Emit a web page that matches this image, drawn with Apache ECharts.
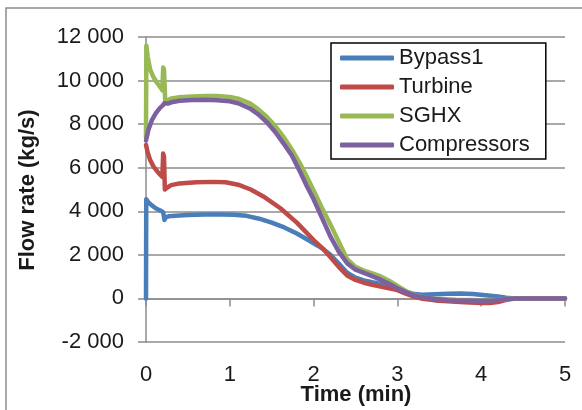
<!DOCTYPE html>
<html><head><meta charset="utf-8">
<script src="https://cdn.jsdelivr.net/npm/echarts@6/dist/echarts.min.js"></script>
<style>html,body{margin:0;padding:0;background:#fff}#c{width:582px;height:410px}</style>
</head><body><div id="c"></div><script>
const seriesNames = ['Bypass1', 'Turbine', 'SGHX', 'Compressors'];
const seriesColors = ['#4A7EBB', '#BE4B48', '#98B954', '#7D60A0'];
const xTicks = [0, 1, 2, 3, 4, 5];
const yTicks = [-2000, 0, 2000, 4000, 6000, 8000, 10000, 12000];

const bypassT = [0, 0.003, 0.03, 0.07, 0.12, 0.17, 0.205, 0.22, 0.235, 0.27, 0.35, 0.5, 0.7, 0.9, 1.05, 1.2, 1.35, 1.5, 1.65, 1.8, 1.95, 2.05, 2.12, 2.2, 2.3, 2.4, 2.5, 2.6, 2.7, 2.8, 2.9, 3.0, 3.1, 3.2, 3.3, 3.45, 3.6, 3.75, 3.9, 4.05, 4.2, 4.3, 4.4, 4.6, 5];
const bypassV = [0, 4550, 4400, 4270, 4130, 4040, 3960, 3600, 3720, 3770, 3800, 3830, 3850, 3855, 3840, 3790, 3660, 3480, 3260, 2980, 2650, 2420, 2250, 2000, 1600, 1180, 950, 830, 740, 660, 560, 450, 310, 200, 170, 190, 220, 230, 200, 150, 90, 30, 0, 0, 0];

const turbineT = [0, 0.02, 0.05, 0.09, 0.13, 0.17, 0.195, 0.205, 0.215, 0.225, 0.25, 0.3, 0.4, 0.6, 0.8, 0.95, 1.1, 1.25, 1.4, 1.6, 1.8, 2.0, 2.12, 2.2, 2.3, 2.4, 2.5, 2.6, 2.7, 2.8, 2.9, 3.0, 3.1, 3.2, 3.3, 3.45, 3.6, 3.8, 4.0, 4.1, 4.2, 4.3, 4.4, 4.6, 5];
const turbineV = [7050, 6700, 6350, 6050, 5850, 5680, 5580, 6650, 6500, 5000, 5080, 5200, 5280, 5330, 5350, 5330, 5220, 5000, 4680, 4150, 3480, 2680, 2250, 1900, 1450, 1050, 850, 720, 620, 540, 460, 380, 220, 80, -20, -90, -130, -170, -210, -210, -170, -60, 0, 0, 0];

const sghxT = [0, 0.004, 0.02, 0.05, 0.09, 0.13, 0.17, 0.195, 0.205, 0.215, 0.23, 0.26, 0.3, 0.4, 0.55, 0.7, 0.85, 1.0, 1.1, 1.24, 1.34, 1.44, 1.54, 1.64, 1.74, 1.84, 1.92, 2.0, 2.1, 2.2, 2.3, 2.4, 2.5, 2.6, 2.7, 2.8, 2.9, 3.0, 3.1, 3.2, 3.3, 3.45, 3.7, 4.0, 4.2, 4.35, 4.6, 5];
const sghxV = [7400, 11600, 11100, 10500, 10150, 9900, 9700, 9550, 10600, 10500, 9000, 9100, 9180, 9230, 9270, 9290, 9290, 9250, 9170, 8950, 8680, 8340, 7920, 7420, 6840, 6180, 5580, 4950, 4150, 3400, 2600, 1800, 1450, 1280, 1150, 1010, 810, 570, 340, 160, 60, -20, -60, -80, -60, 0, 0, 0];

const compT = [0, 0.03, 0.07, 0.12, 0.17, 0.2, 0.22, 0.24, 0.27, 0.32, 0.4, 0.55, 0.7, 0.85, 1.0, 1.1, 1.24, 1.34, 1.44, 1.54, 1.64, 1.74, 1.84, 1.92, 2.0, 2.1, 2.2, 2.3, 2.4, 2.5, 2.6, 2.7, 2.8, 2.9, 3.0, 3.1, 3.2, 3.3, 3.45, 3.6, 3.8, 4.0, 4.15, 4.3, 4.4, 4.6, 5];
const compV = [7250, 7750, 8180, 8520, 8760, 8860, 8960, 8880, 8950, 9020, 9070, 9110, 9120, 9100, 9050, 8960, 8720, 8450, 8100, 7650, 7120, 6560, 5800, 5150, 4550, 3700, 2850, 2150, 1620, 1320, 1170, 1020, 860, 670, 470, 290, 140, 50, -30, -80, -100, -110, -90, -30, 0, 0, 0];

const seriesT = [bypassT, turbineT, sghxT, compT];
const seriesV = [bypassV, turbineV, sghxV, compV];

const FONT = 'Liberation Sans';
const GRID_GREY = '#8c8c8c';
function fmt(v) {
  const s = Math.abs(v).toString().replace(/\B(?=(\d{3})+(?!\d))/g, ' ');
  return (v < 0 ? '-' : '') + s;
}

const chart = echarts.init(document.getElementById('c'), null, {renderer: 'canvas'});
chart.setOption({
  animation: false,
  backgroundColor: '#ffffff',
  grid: {left: 146, right: 17, top: 37, bottom: 68, containLabel: false, outerBoundsMode: 'none'},
  xAxis: [{
    type: 'value', min: xTicks[0], max: xTicks[xTicks.length - 1], interval: 1,
    position: 'bottom',
    axisLine: {show: false, onZero: false},
    axisTick: {show: false},
    splitLine: {show: false},
    axisLabel: {margin: 22, fontFamily: FONT, fontSize: 22, color: '#1a1a1a'}
  }, {
    type: 'value', min: xTicks[0], max: xTicks[xTicks.length - 1], interval: 1,
    position: 'top',
    axisLine: {show: true, onZero: true, lineStyle: {color: GRID_GREY, width: 1.5}},
    axisTick: {show: true, inside: true, length: 8, lineStyle: {color: GRID_GREY, width: 1.5}},
    splitLine: {show: false},
    axisLabel: {show: false}
  }],
  yAxis: {
    type: 'value', min: yTicks[0], max: yTicks[yTicks.length - 1], interval: 2000,
    axisLine: {show: true, onZero: false, lineStyle: {color: GRID_GREY, width: 1.5}},
    axisTick: {show: true, length: 8, lineStyle: {color: GRID_GREY, width: 1.5}},
    splitLine: {show: true, lineStyle: {color: GRID_GREY, width: 1.5}},
    axisLabel: {margin: 22, fontFamily: FONT, fontSize: 22, color: '#1a1a1a', formatter: fmt}
  },
  legend: {
    orient: 'vertical', left: 331, top: 43,
    padding: [4, 16, 3, 9], itemGap: 7,
    backgroundColor: '#ffffff', borderColor: '#000000', borderWidth: 1.5, borderRadius: 0,
    itemWidth: 54, itemHeight: 5, icon: 'roundRect',
    textStyle: {fontFamily: FONT, fontSize: 22, color: '#1a1a1a', lineHeight: 22},
    data: seriesNames
  },
  graphic: [
    {type: 'rect', shape: {x: 6, y: 8, width: 700, height: 600}, style: {fill: 'none', stroke: '#8c8c8c', lineWidth: 1.5}, z: 100},
    {type: 'text', x: 28, y: 190, rotation: Math.PI / 2,
     style: {text: 'Flow rate (kg/s)', font: 'bold 22px "Liberation Sans"', fill: '#1a1a1a', textAlign: 'center', verticalAlign: 'middle', textVerticalAlign: 'middle'}},
    {type: 'text', x: 356, y: 395,
     style: {text: 'Time (min)', font: 'bold 22px "Liberation Sans"', fill: '#1a1a1a', textAlign: 'center', verticalAlign: 'middle', textVerticalAlign: 'middle'}}
  ],
  series: seriesNames.map((name, i) => ({
    name: name, type: 'line', xAxisIndex: 0, showSymbol: false, symbol: 'none',
    smooth: false,
    color: seriesColors[i],
    lineStyle: {width: 4.5, color: seriesColors[i], cap: 'round', join: 'round'},
    data: seriesT[i].map((t, j) => [t, seriesV[i][j]])
  }))
});
</script></body></html>
